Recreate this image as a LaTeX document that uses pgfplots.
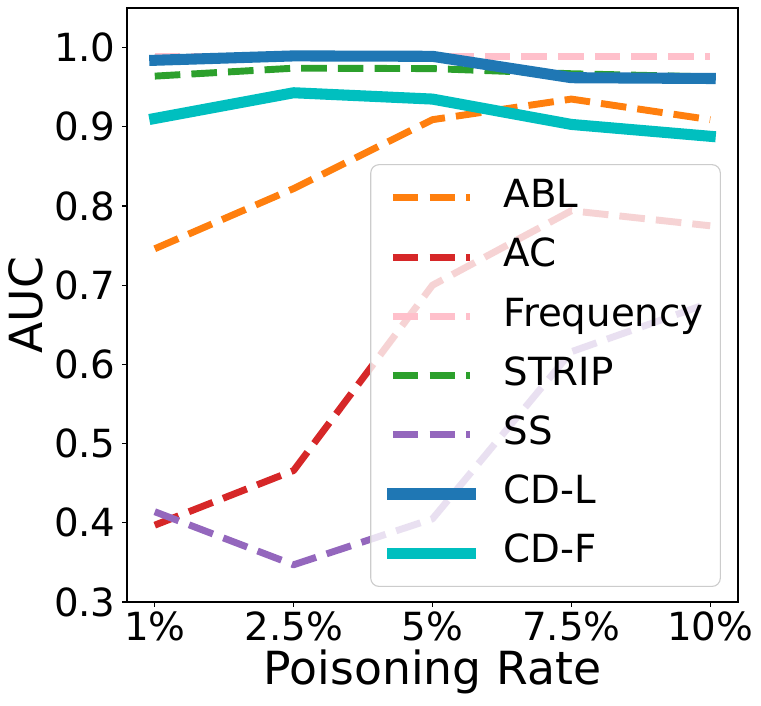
\documentclass[border=0pt]{standalone}
\usepackage{fontspec}
\setmainfont{DejaVu Sans}
\usepackage{pgfplots}
\pgfplotsset{compat=1.18}
\definecolor{cABL}{HTML}{FF7F0E}
\definecolor{cAC}{HTML}{D62728}
\definecolor{cFreq}{HTML}{FFC0CB}
\definecolor{cSTRIP}{HTML}{2CA02C}
\definecolor{cSS}{HTML}{9467BD}
\definecolor{cCDL}{HTML}{1F77B4}
\definecolor{cCDF}{HTML}{00BFBF}
\begin{document}
\begin{tikzpicture}
\useasboundingbox (-1.27in,-1.03in) rectangle (6.34in,6.02in);
\begin{axis}[
  at={(0,0)}, anchor=south west,
  scale only axis, width=6.11in, height=5.94in,
  xmin=-0.2, xmax=4.2, ymin=0.3, ymax=1.05,
  xtick={0,1,2,3,4},
  xticklabels={1\%,2.5\%,5\%,7.5\%,10\%},
  ytick={0.3,0.4,0.5,0.6,0.7,0.8,0.9,1.0},
  yticklabel style={/pgf/number format/fixed, /pgf/number format/fixed zerofill, /pgf/number format/precision=1},
  /pgf/number format/assume math mode=true,
  tick label style={font=\fontsize{28}{34}\selectfont},
  xticklabel style={anchor=north, inner sep=0pt, yshift=-3pt, text depth=0pt},
  yticklabel style={anchor=east, inner sep=0pt, xshift=-4.5pt},
  tick pos=left, tick align=outside, major tick length=3.5pt,
  major tick style={line width=0.8pt, black},
  axis line style={line width=0.8pt},
  xlabel={Poisoning Rate}, ylabel={AUC},
  label style={font=\fontsize{33}{39}\selectfont, inner sep=0pt},
  x label style={at={(axis description cs:0.5,-0.139)}, anchor=base},
  y label style={at={(axis description cs:-0.1375,0.5)}, anchor=base, rotate=0},
  legend cell align=left,
  legend image code/.code={\draw[#1] (0pt,0pt) -- (56pt,0pt);},
  legend style={at={(0.972,0.0253)}, anchor=south east,
    font=\fontsize{28}{34}\selectfont,
    draw=black!20, fill=white, fill opacity=0.8, draw opacity=1, text opacity=1,
    rounded corners=6pt, line width=0.8pt,
    inner xsep=12pt, inner ysep=10pt, row sep=14.8pt, column sep=20pt,
    nodes={inner sep=0pt, text height=21pt, text depth=7pt}},
  dashedline/.style={line width=5pt, dash pattern=on 18.5pt off 8pt, line join=round},
  solidline/.style={line width=8pt, line cap=rect, line join=round},
]
\addplot[dashedline, cABL] coordinates {(0,0.746) (1,0.822) (2,0.909) (3,0.935) (4,0.909)};
\addlegendentry{ABL}
\addplot[dashedline, cAC] coordinates {(0,0.397) (1,0.466) (2,0.700) (3,0.794) (4,0.775)};
\addlegendentry{AC}
\addplot[dashedline, cFreq] coordinates {(0,0.989) (1,0.989) (2,0.989) (3,0.989) (4,0.989)};
\addlegendentry{Frequency}
\addplot[dashedline, cSTRIP] coordinates {(0,0.964) (1,0.974) (2,0.9735) (3,0.967) (4,0.963)};
\addlegendentry{STRIP}
\addplot[dashedline, cSS] coordinates {(0,0.414) (1,0.347) (2,0.405) (3,0.616) (4,0.678)};
\addlegendentry{SS}
\addplot[solidline, cCDL] coordinates {(0,0.984) (1,0.9895) (2,0.989) (3,0.962) (4,0.961)};
\addlegendentry{CD-L}
\addplot[solidline, cCDF] coordinates {(0,0.9105) (1,0.943) (2,0.935) (3,0.903) (4,0.888)};
\addlegendentry{CD-F}
\end{axis}
\end{tikzpicture}
\end{document}
